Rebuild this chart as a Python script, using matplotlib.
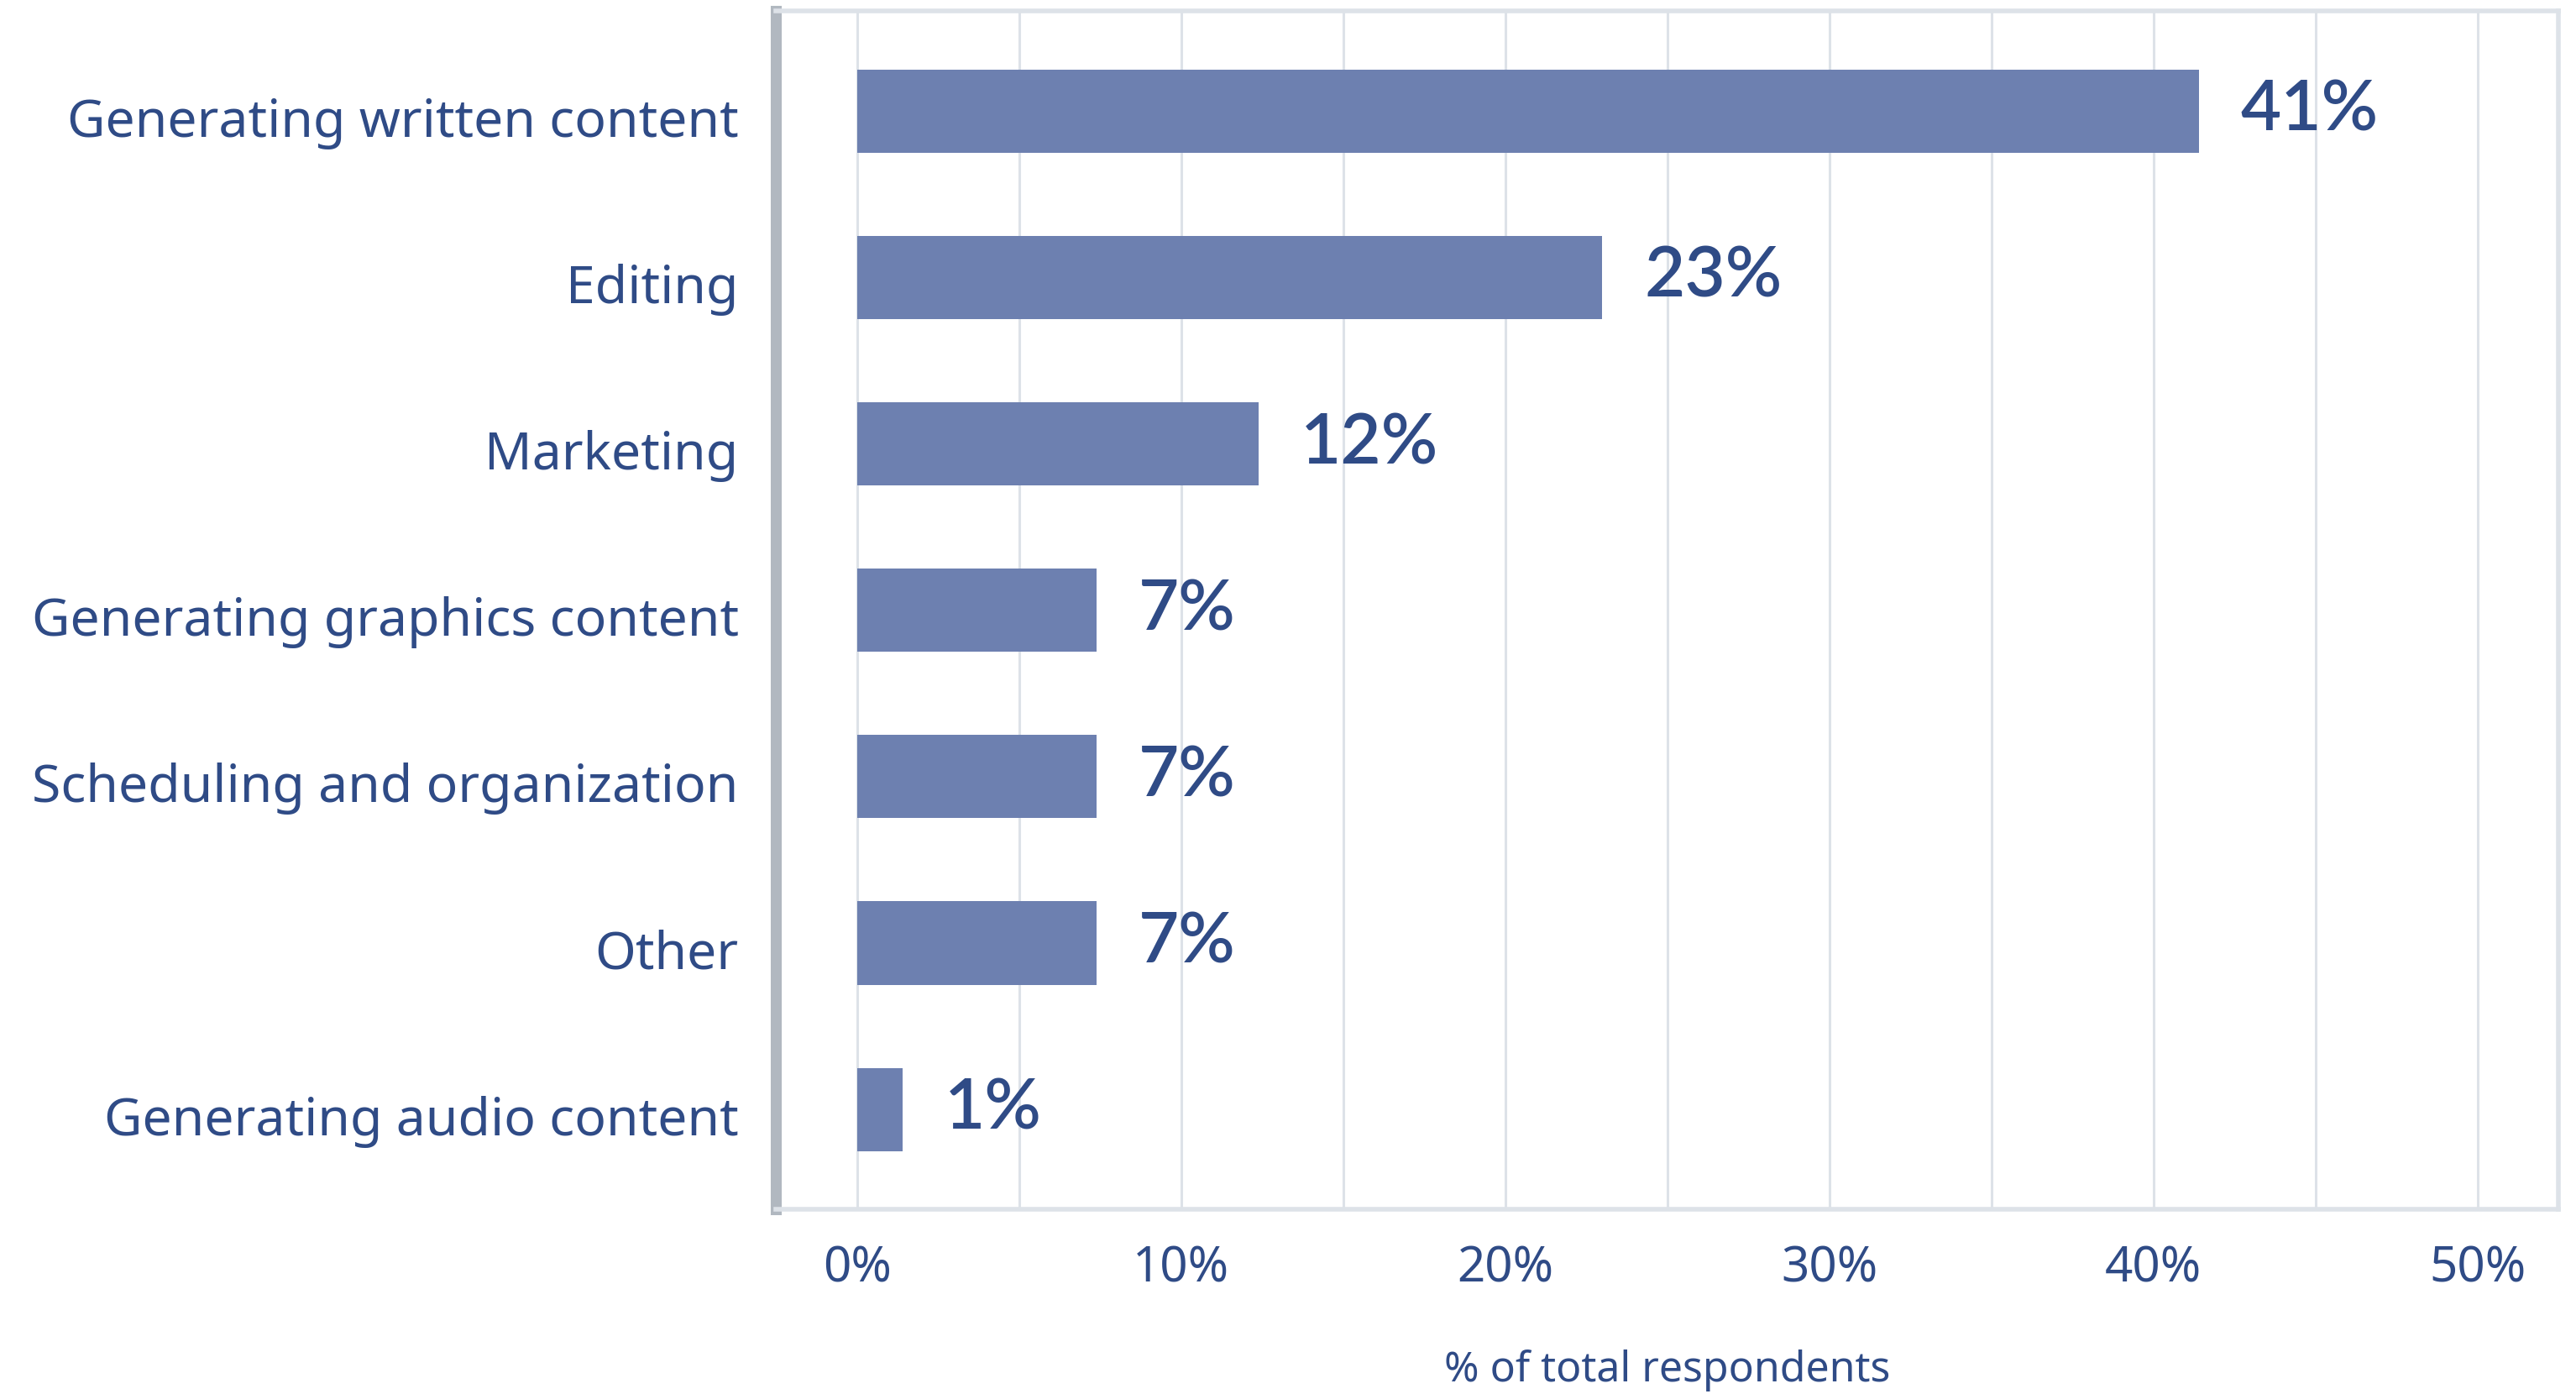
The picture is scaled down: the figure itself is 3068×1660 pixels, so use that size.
import numpy as np
import matplotlib.pyplot as plt
import matplotlib.transforms as mtransforms
from matplotlib.ticker import MultipleLocator, FuncFormatter

# share of respondents per use case (percent)
categories = [
    "Generating written content",
    "Editing",
    "Marketing",
    "Generating graphics content",
    "Scheduling and organization",
    "Other",
    "Generating audio content",
]
shares = [41.4, 23.0, 12.4, 7.4, 7.4, 7.4, 1.4]

TEXT = "#2f4b86"
BAR = "#6d80b0"
GRID = "#dde2e8"

plt.rcParams['font.family'] = ['Noto Sans', 'DejaVu Sans']

fig = plt.figure(figsize=(15.34, 8.3), dpi=200)
ax = fig.add_axes([0.3012, 0.1325, 0.692, 0.8595])

y = np.arange(len(categories))
ax.barh(y, shares, height=0.5, color=BAR, zorder=2)

for yi, v in zip(y, shares):
    ax.annotate(f"{v:.0f}%", xy=(v, yi), xytext=(18, 0), textcoords="offset points",
                ha="left", va="center", fontsize=30, fontweight="semibold",
                family=["Lato", "DejaVu Sans"], color=TEXT, zorder=3)

ax.set_xlim(-2.5, 52.5)
ax.set_ylim(len(categories) - 0.4, -0.6)

ax.set_yticks(y)
ax.set_yticklabels(categories, fontsize=22.5, color=TEXT, fontweight="medium")
ax.xaxis.set_major_locator(MultipleLocator(10))
ax.xaxis.set_minor_locator(MultipleLocator(5))
ax.xaxis.set_major_formatter(FuncFormatter(lambda v, _: f"{v:.0f}%"))
ax.tick_params(axis="x", which="both", length=0, labelsize=21, labelcolor=TEXT, pad=15)
ax.tick_params(axis="y", length=0, pad=16)
for lab in ax.get_xticklabels():
    lab.set_fontweight("medium")

# nudge category labels down a touch so they sit level with the bars
shift = mtransforms.ScaledTranslation(0, -2.5 / 72, fig.dpi_scale_trans)
for lab in ax.get_yticklabels():
    lab.set_transform(lab.get_transform() + shift)

ax.grid(axis="x", which="both", color=GRID, linewidth=1.1, zorder=0)
ax.set_axisbelow(True)

ax.set_xlabel("% of total respondents", fontsize=18, color=TEXT,
              fontweight="medium", labelpad=24)

ax.spines["left"].set_color("#b1b8c0")
ax.spines["left"].set_linewidth(4.7)
for side in ("top", "right", "bottom"):
    ax.spines[side].set_color(GRID)
    ax.spines[side].set_linewidth(2.0)

fig.savefig("out.png", dpi=200, facecolor="white")
